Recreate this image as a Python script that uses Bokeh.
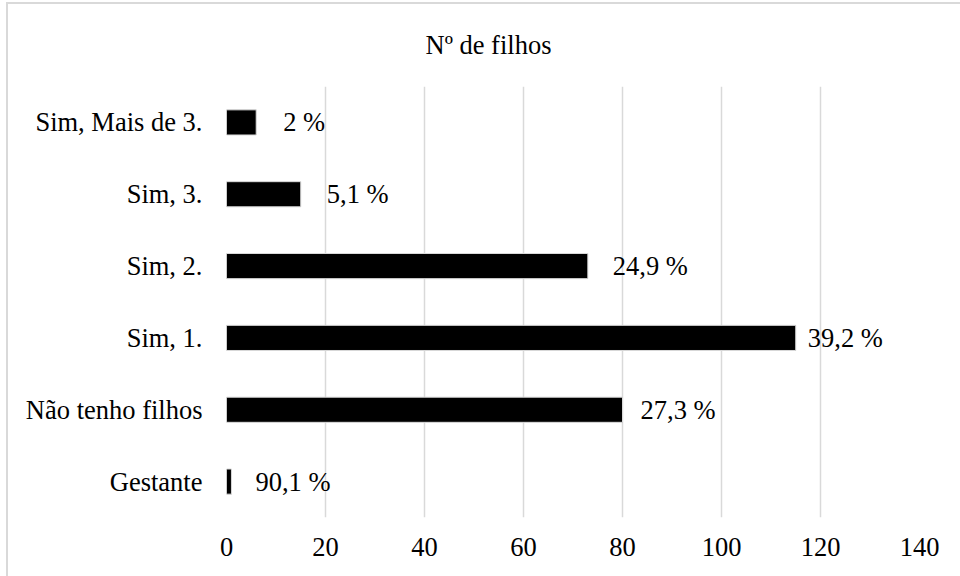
from bokeh.plotting import figure
from bokeh.layouts import column
from bokeh.models import ColumnDataSource, FixedTicker
from bokeh.core.properties import value
from bokeh.embed import file_html
from bokeh.resources import INLINE

# Number of children reported by respondents (bar = count, label = share)
categories = ["Gestante", "Não tenho filhos", "Sim, 1.", "Sim, 2.", "Sim, 3.", "Sim, Mais de 3."]
counts = [1, 80, 115, 73, 15, 6]
pct_labels = ["90,1 %", "27,3 %", "39,2 %", "24,9 %", "5,1 %", "2 %"]
x_ticks = [0, 20, 40, 60, 80, 100, 120, 140]

# pixel gap between bar end and its label
label_gap = [24, 18, 12, 25, 26, 27]

FONT = "Liberation Serif"
GRID = "#d9d9d9"
FS = "26.5px"

src = ColumnDataSource(dict(cat=categories, n=counts, lab=pct_labels, gap=label_gap))

p = figure(
    width=952, height=572,
    y_range=categories, x_range=(0, 140),
    output_backend="svg", toolbar_location=None,
    min_border_left=218, min_border_right=41,
    min_border_top=82, min_border_bottom=59,
)

p.title.text = "Nº de filhos"
p.title.align = "left"
p.title.offset = 199
p.title.vertical_align = "top"
p.title.standoff = 50
p.title.text_font = FONT
p.title.text_font_size = FS
p.title.text_font_style = "normal"
p.title.text_color = "black"

p.hbar(y="cat", left=0, right="n", height=0.35, source=src,
       fill_color="black", line_color=GRID, line_width=1)

p.text(x="n", y="cat", text="lab", x_offset="gap", source=src,
       text_align="left", text_baseline="middle",
       text_font=value(FONT), text_font_size=FS, text_color="black")

p.outline_line_color = None
p.background_fill_color = "white"
p.border_fill_color = "white"

p.xaxis.ticker = FixedTicker(ticks=x_ticks)
p.xgrid.ticker = FixedTicker(ticks=x_ticks)
p.xgrid.grid_line_color = GRID
p.xgrid.grid_line_width = 1.5
p.ygrid.grid_line_color = None

for ax in (p.xaxis, p.yaxis):
    ax.axis_line_color = None
    ax.major_tick_line_color = None
    ax.minor_tick_line_color = None
    ax.major_tick_out = 0
    ax.major_label_text_font = FONT
    ax.major_label_text_font_size = FS
    ax.major_label_text_color = "black"

p.xaxis.major_label_standoff = 20
p.yaxis.major_label_standoff = 24

# light frame around the chart area
page = column(p, styles={
    "margin-left": "6px", "margin-top": "2px",
    "border-left": f"2px solid {GRID}", "border-top": f"2px solid {GRID}",
})

open("out.html", "w").write(file_html(page, INLINE))
